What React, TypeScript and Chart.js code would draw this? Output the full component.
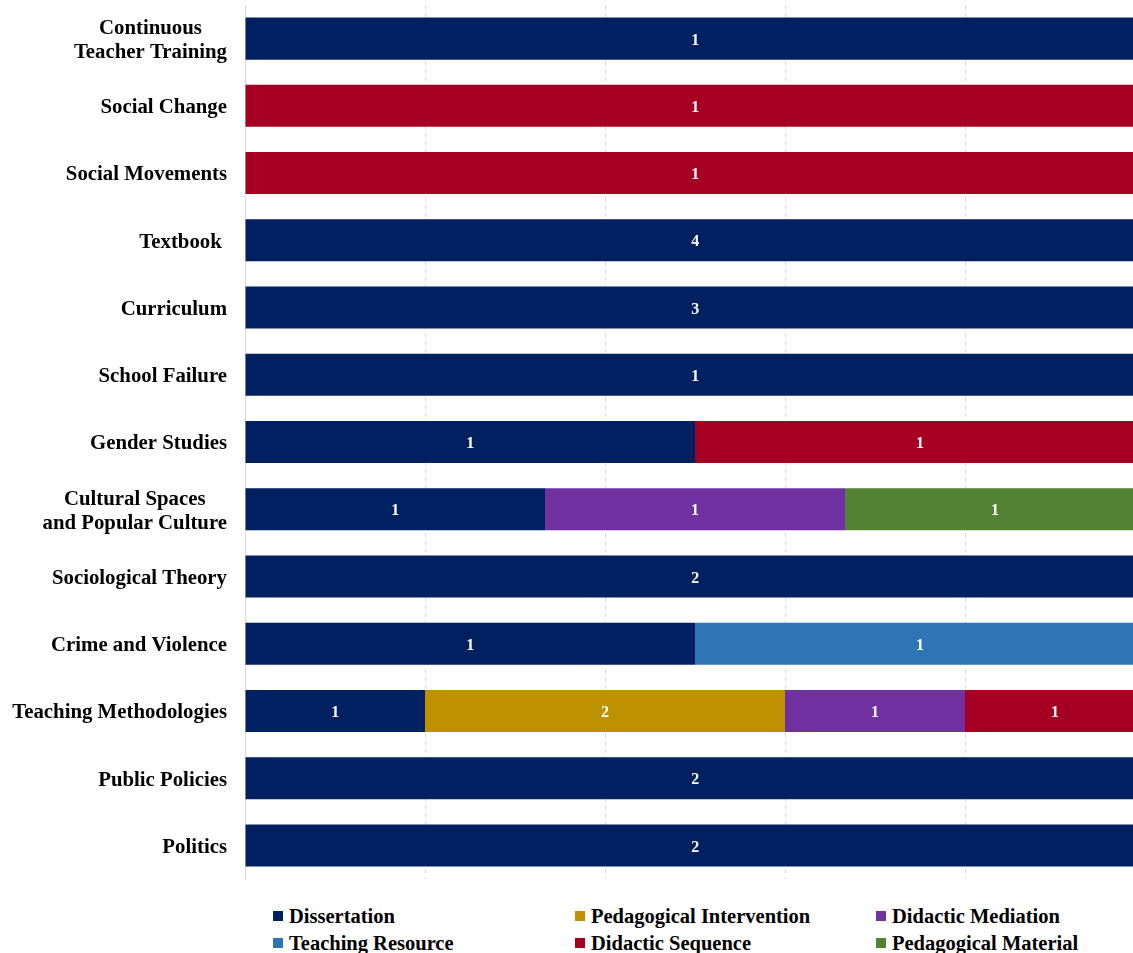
import React, { useEffect, useRef } from "react";
import { Chart, registerables } from "chart.js";

Chart.register(...registerables);

const categories: (string | string[])[] = [
  ["Continuous", "Teacher Training"],
  "Social Change",
  "Social Movements",
  "Textbook ",
  "Curriculum",
  "School Failure",
  "Gender Studies",
  ["Cultural Spaces", "and Popular Culture"],
  "Sociological Theory",
  "Crime and Violence",
  "Teaching Methodologies",
  "Public Policies",
  "Politics",
];

const seriesNames = [
  "Dissertation",
  "Pedagogical Intervention",
  "Didactic Mediation",
  "Teaching Resource",
  "Didactic Sequence",
  "Pedagogical Material",
];

const seriesColors = ["#002060", "#BF9000", "#7030A0", "#2E75B6", "#A50021", "#548235"];

const dissertation = [1, 0, 0, 4, 3, 1, 1, 1, 2, 1, 1, 2, 2];
const pedagogicalIntervention = [0, 0, 0, 0, 0, 0, 0, 0, 0, 0, 2, 0, 0];
const didacticMediation = [0, 0, 0, 0, 0, 0, 0, 1, 0, 0, 1, 0, 0];
const teachingResource = [0, 0, 0, 0, 0, 0, 0, 0, 0, 1, 0, 0, 0];
const didacticSequence = [0, 1, 1, 0, 0, 0, 1, 0, 0, 0, 1, 0, 0];
const pedagogicalMaterial = [0, 0, 0, 0, 0, 0, 0, 1, 0, 0, 0, 0, 0];

const seriesValues = [
  dissertation,
  pedagogicalIntervention,
  didacticMediation,
  teachingResource,
  didacticSequence,
  pedagogicalMaterial,
];

const FONT = '"Liberation Serif", "Times New Roman", serif';
const TICK_FONT_SIZE = 20.8;
const TICK_LINE_HEIGHT = 24;

const totals = categories.map((_, i) => seriesValues.reduce((s, arr) => s + arr[i], 0));

const labelPlugin = {
  id: "countLabels",
  afterDatasetsDraw(chart: any) {
    const ctx = chart.ctx;
    ctx.save();
    ctx.fillStyle = "#ffffff";
    ctx.font = `bold 16px ${FONT}`;
    ctx.textAlign = "center";
    ctx.textBaseline = "middle";
    chart.data.datasets.forEach((ds: any, di: number) => {
      const meta = chart.getDatasetMeta(di);
      meta.data.forEach((el: any, i: number) => {
        const count = ds.counts[i];
        if (!count) return;
        const p = el.getCenterPoint();
        ctx.fillText(String(count), p.x, p.y + 2);
      });
    });
    ctx.restore();
  },
};

// Draws category labels: right-aligned as a block, lines centred within the block
const categoryLabelPlugin = {
  id: "categoryLabels",
  afterDraw(chart: any) {
    const ctx = chart.ctx;
    const yScale = chart.scales.y;
    const right = chart.chartArea.left - 18;
    ctx.save();
    ctx.fillStyle = "#000000";
    ctx.font = `bold ${TICK_FONT_SIZE}px ${FONT}`;
    ctx.textBaseline = "middle";
    ctx.textAlign = "center";
    (chart.data.labels as any[]).forEach((label, i) => {
      const lines: string[] = Array.isArray(label) ? label : [label];
      const widths = lines.map((l) => ctx.measureText(l).width);
      const blockW = Math.max(...widths);
      const cx = right - blockW / 2;
      const cy = yScale.getPixelForTick(i) + 2;
      const startY = cy - ((lines.length - 1) * TICK_LINE_HEIGHT) / 2;
      lines.forEach((l, li) => {
        ctx.fillText(l, cx, startY + li * TICK_LINE_HEIGHT);
      });
    });
    ctx.restore();
  },
};

export default function App() {
  const ref = useRef<HTMLCanvasElement | null>(null);

  useEffect(() => {
    if (!ref.current) return;
    const chart = new Chart(ref.current, {
      type: "bar",
      data: {
        labels: categories,
        datasets: seriesNames.map((name, si) => ({
          label: name,
          data: seriesValues[si].map((v, i) => (v / totals[i]) * 100),
          counts: seriesValues[si],
          backgroundColor: seriesColors[si],
          borderWidth: 0,
          barPercentage: 0.625,
          categoryPercentage: 1,
        })) as any,
      },
      options: {
        animation: false,
        responsive: true,
        maintainAspectRatio: false,
        indexAxis: "y",
        layout: { padding: { top: 5, bottom: 11, right: 5, left: 0 } },
        plugins: {
          legend: { display: false },
          tooltip: { enabled: false },
        },
        scales: {
          x: {
            stacked: true,
            min: 0,
            max: 100,
            ticks: { display: false, stepSize: 20 },
            grid: {
              color: "#d9d9d9",
              drawTicks: false,
            },
            border: { display: false, dash: [4, 4] },
            afterFit(scale: any) {
              scale.height = 0;
              scale.paddingLeft = 0;
              scale.paddingRight = 0;
            },
          },
          y: {
            stacked: true,
            grid: { display: false, drawTicks: false },
            border: { display: true, color: "#d9d9d9" },
            ticks: { display: false },
            afterFit(scale: any) {
              scale.width = 245;
              scale.paddingTop = 0;
              scale.paddingBottom = 0;
            },
          },
        },
      } as any,
      plugins: [labelPlugin, categoryLabelPlugin],
    });
    return () => chart.destroy();
  }, []);

  const legendPositions = [
    [273, 916],
    [575, 916],
    [876, 916],
    [273, 943],
    [575, 943],
    [876, 943],
  ];

  return (
    <div
      style={{
        position: "fixed",
        left: 0,
        top: 0,
        width: 1133,
        height: 953,
        overflow: "hidden",
        background: "#ffffff",
      }}
    >
      <div style={{ position: "absolute", left: 0, top: 0, width: 1150, height: 890 }}>
        <canvas ref={ref} />
      </div>
      {seriesNames.map((name, i) => (
        <div
          key={name}
          style={{
            position: "absolute",
            left: legendPositions[i][0],
            top: legendPositions[i][1] - 12,
            height: 24,
            display: "flex",
            alignItems: "center",
            whiteSpace: "nowrap",
            fontFamily: FONT,
            fontWeight: "bold",
            fontSize: 20.5,
            color: "#000",
          }}
        >
          <span
            style={{
              display: "inline-block",
              width: 10,
              height: 10,
              background: seriesColors[i],
              marginRight: 6,
            }}
          />
          {name}
        </div>
      ))}
    </div>
  );
}
